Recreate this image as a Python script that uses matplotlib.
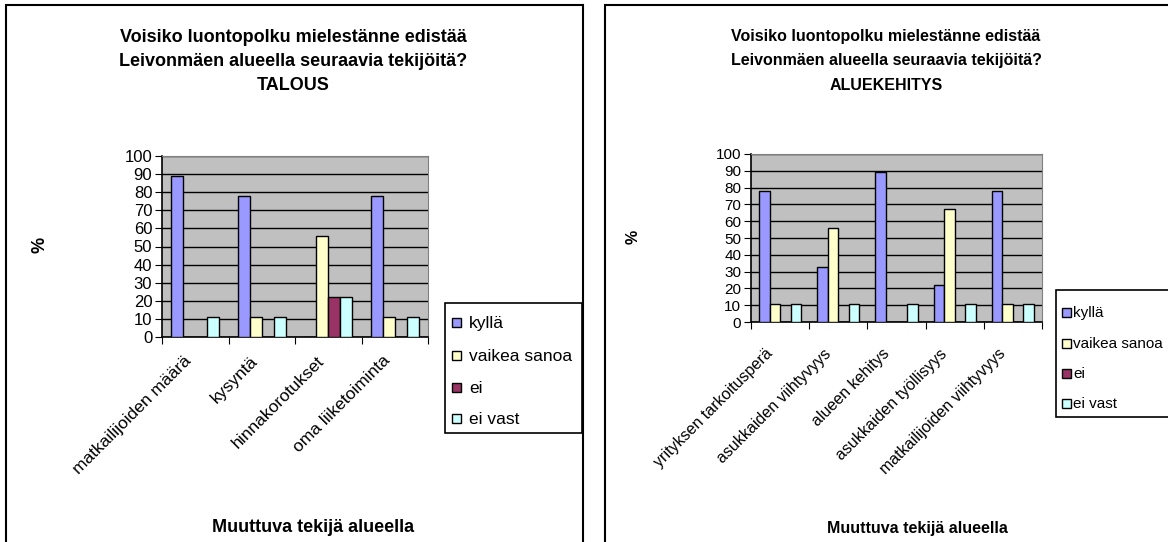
import matplotlib
matplotlib.use("Agg")
import matplotlib.pyplot as plt
import matplotlib.patches as patches
import matplotlib.transforms as mtransforms
import numpy as np

plt.rcParams['font.family'] = ['Liberation Sans', 'DejaVu Sans']

series_names = ["kyllä", "vaikea sanoa", "ei", "ei vast"]
series_colors = ["#9999FF", "#FFFFCC", "#993366", "#CCFFFF"]

# TALOUS
talous_categories = ["matkailijoiden määrä", "kysyntä", "hinnakorotukset", "oma liiketoiminta"]
talous_kylla = [89, 78, 0, 78]
talous_vaikea = [0, 11, 56, 11]
talous_ei = [0, 0, 22, 0]
talous_eivast = [11, 11, 22, 11]

# ALUEKEHITYS
alue_categories = ["yrityksen tarkoitusperä", "asukkaiden viihtyvyys", "alueen kehitys",
                   "asukkaiden työllisyys", "matkailijoiden viihtyvyys"]
alue_kylla = [78, 33, 89, 22, 78]
alue_vaikea = [11, 56, 0, 67, 11]
alue_ei = [0, 0, 0, 0, 0]
alue_eivast = [11, 11, 11, 11, 11]

title_lines = ["Voisiko luontopolku mielestänne edistää",
               "Leivonmäen alueella seuraavia tekijöitä?"]

W, H = 1168, 542
fig = plt.figure(figsize=(W / 100, H / 100), dpi=100)


def px_rect(x0, y0, x1, y1):
    # pixel box (top-left origin) -> figure fraction [l, b, w, h]
    return [x0 / W, (H - y1) / H, (x1 - x0) / W, (y1 - y0) / H]


def fig_box(x0, y0, x1, y1, **kw):
    fig.add_artist(patches.Rectangle((x0 / W, (H - y1) / H), (x1 - x0) / W, (y1 - y0) / H,
                                     transform=fig.transFigure, **kw))


def draw_legend(box, hx, tx, ys, size, fontsize):
    # excel-like legend: framed box, small squares, labels
    fig_box(*box, facecolor='white', edgecolor='black', linewidth=1.2, zorder=5)
    for name, col, yy in zip(series_names, series_colors, ys):
        fig_box(hx, yy - size / 2, hx + size, yy + size / 2, facecolor=col,
                edgecolor='black', linewidth=1, zorder=6)
        fig.text(tx / W, 1 - yy / H, name, ha='left', va='center_baseline',
                 fontsize=fontsize, zorder=6)


def draw_panel(box, plot_box, subtitle, cats, series, opts):
    fig_box(*box, fill=False, edgecolor='black', linewidth=1.5)
    ax = fig.add_axes(px_rect(*plot_box))
    ax.set_facecolor('#C0C0C0')
    n = len(cats)
    k = len(series)
    bw = 1 / (k + 1.5)
    x = np.arange(n)
    for i, (vals, col, name) in enumerate(zip(series, series_colors, series_names)):
        offs = (i - (k - 1) / 2) * bw
        ax.bar(x + 0.5 + offs, vals, width=bw, color=col, edgecolor='black',
               linewidth=1, label=name, zorder=3)
    ax.set_xlim(0, n)
    ax.set_ylim(0, 100)
    ax.set_yticks(range(0, 101, 10))
    ax.yaxis.grid(True, color='black', linewidth=1, zorder=1)
    ax.set_axisbelow(True)
    ax.set_xticks(range(n + 1))
    ax.set_xticklabels([])
    ax.tick_params(axis='x', length=5, direction='out')
    ax.tick_params(axis='y', length=5, direction='out', labelsize=opts['tick'], pad=2)
    for s in ['top', 'right']:
        ax.spines[s].set_color('#808080')
    for s in ['left', 'bottom']:
        ax.spines[s].set_color('black')
        ax.spines[s].set_linewidth(1.2)

    # rotated category labels, shifted below the axis
    dx, dy = opts['cat_off']
    trans = ax.get_xaxis_transform() + mtransforms.ScaledTranslation(
        dx / 100, -dy / 100, fig.dpi_scale_trans)
    for xi, c in zip(x, cats):
        ax.text(xi + 0.5, 0, c, transform=trans, rotation=45, ha='right', va='top',
                rotation_mode='anchor', fontsize=opts['cat'])

    cx = opts['title_x']
    for line, yy in zip(title_lines + [subtitle], opts['title_y']):
        fig.text(cx / W, 1 - yy / H, line, ha='center', va='center',
                 fontsize=opts['title'], fontweight='bold')
    fig.text(opts['xlabel'][0] / W, 1 - opts['xlabel'][1] / H, "Muuttuva tekijä alueella",
             ha='center', va='center', fontsize=opts['xsize'], fontweight='bold')
    fig.text(opts['ylabel'][0] / W, 1 - opts['ylabel'][1] / H, "%", ha='center',
             va='center', rotation=90, fontsize=opts['xsize'], fontweight='bold')
    draw_legend(*opts['legend'])
    return ax


draw_panel((6, 5, 583, 560), (162, 156, 428, 337), "TALOUS", talous_categories,
           [talous_kylla, talous_vaikea, talous_ei, talous_eivast],
           dict(tick=12, cat=12.5, cat_off=(-12, 16), title=13, title_x=293,
                title_y=(37, 61, 86), xlabel=(313, 528), xsize=13, ylabel=(40, 245),
                legend=((445, 303, 582, 433), 452, 469, (322, 355, 387, 418), 9, 12.5)))

draw_panel((605, 5, 1190, 560), (751, 154, 1042, 322), "ALUEKEHITYS", alue_categories,
           [alue_kylla, alue_vaikea, alue_ei, alue_eivast],
           dict(tick=11, cat=11.5, cat_off=(-15, 24), title=11.5, title_x=886,
                title_y=(37, 61, 86), xlabel=(917, 528), xsize=11.5, ylabel=(633, 237),
                legend=((1056, 290, 1180, 417), 1062, 1073, (312, 343, 373, 403), 9, 11)))

fig.savefig("out.png", dpi=100)
